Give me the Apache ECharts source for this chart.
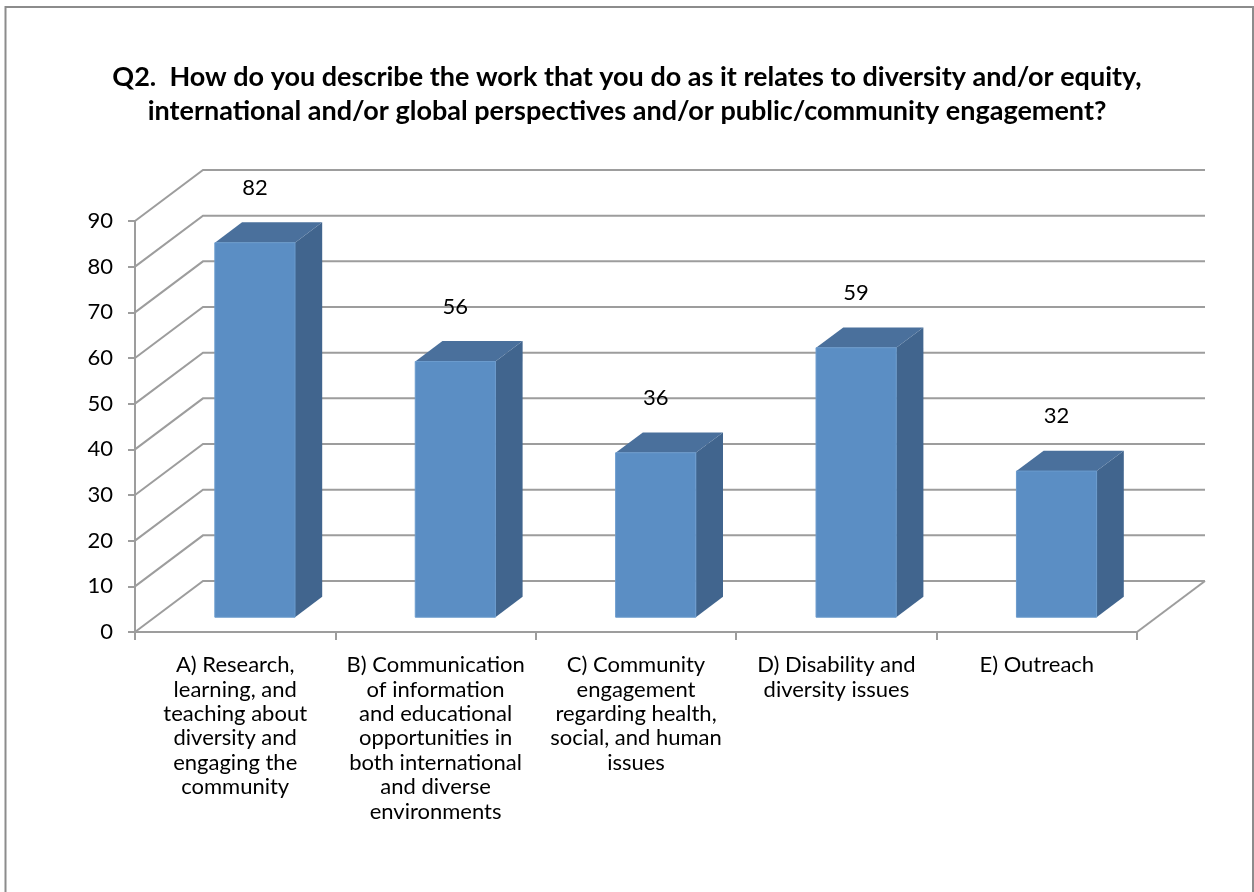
<!DOCTYPE html>
<html>
<head>
<meta charset="utf-8">
<script src="https://cdn.jsdelivr.net/npm/echarts@6/dist/echarts.min.js"></script>
<style>
  html, body { margin: 0; padding: 0; background: #fff; }
  #chart { width: 1254px; height: 892px; }
</style>
</head>
<body>
<div id="chart"></div>
<script>
// Survey responses per category
const categories = [
  'A) Research,\nlearning, and\nteaching about\ndiversity and\nengaging the\ncommunity',
  'B) Communication\nof information\nand educational\nopportunities in\nboth international\nand diverse\nenvironments',
  'C) Community\nengagement\nregarding health,\nsocial, and human\nissues',
  'D) Disability and\ndiversity issues',
  'E) Outreach'
];
const responses = [82, 56, 36, 59, 32];
const yTicks = [0, 10, 20, 30, 40, 50, 60, 70, 80, 90];

const titleText = 'Q2.  How do you describe the work that you do as it relates to diversity and/or equity,\ninternational and/or global perspectives and/or public/community engagement?';

// Pseudo-3D projection: depth of the floor in pixels, bar placement within the depth
const DX = 68, DY = -51;
const BAR_FRONT = 0.29, BAR_DEPTH = 0.40, BAR_WIDTH = 0.40;
const FONT = 'Lato, "Open Sans", sans-serif';
const GRID_COLOR = '#9d9d9d';

const chart = echarts.init(document.getElementById('chart'));

function renderWalls(params, api) {
  const cs = params.coordSys;
  const v = api.value(1);
  const y = api.coord([0, v])[1];
  const x0 = cs.x, x1 = cs.x + cs.width;
  const style = { stroke: GRID_COLOR, lineWidth: 2, fill: null };
  const children = [{
    type: 'polyline',
    shape: { points: [[x0, y], [x0 + DX, y + DY], [x1 + DX, y + DY]] },
    style: style
  }];
  if (v === 0) {
    children.push({
      type: 'line',
      shape: { x1: x1, y1: y, x2: x1 + DX, y2: y + DY },
      style: style
    });
  }
  return { type: 'group', children: children };
}

function renderBar(params, api) {
  const idx = api.value(0);
  const val = api.value(1);
  const top = api.coord([idx, val]);
  const base = api.coord([idx, 0]);
  const w = api.size([1, 0])[0] * BAR_WIDTH;
  const ox = DX * BAR_FRONT, oy = DY * BAR_FRONT;
  const dx = DX * BAR_DEPTH, dy = DY * BAR_DEPTH;
  const xl = top[0] + ox - w / 2, xr = top[0] + ox + w / 2;
  const yt = top[1] + oy, yb = base[1] + oy;
  return {
    type: 'group',
    children: [
      { type: 'polygon', shape: { points: [[xr, yt], [xr + dx, yt + dy], [xr + dx, yb + dy], [xr, yb]] },
        style: { fill: '#41658e' } },
      { type: 'polygon', shape: { points: [[xl, yt], [xr, yt], [xr + dx, yt + dy], [xl + dx, yt + dy]] },
        style: { fill: '#4a709c' } },
      { type: 'rect', shape: { x: xl, y: yt, width: w, height: yb - yt },
        style: { fill: '#5b8ec4', stroke: '#6b9bcd', lineWidth: 1 } },
      { type: 'text', x: top[0] + ox, y: yt - 55,
        style: { text: String(val), fontSize: 22, fontFamily: FONT, fill: '#000',
                 align: 'center', verticalAlign: 'middle' } }
    ]
  };
}

chart.setOption({
  backgroundColor: '#fff',
  animation: false,
  graphic: [
    {
      type: 'rect',
      shape: { x: 5.5, y: 7, width: 1247.5, height: 900 },
      style: { fill: null, stroke: '#8c8c8c', lineWidth: 2 },
      silent: true
    },
    {
      type: 'text',
      x: 627, y: 94,
      style: { text: titleText, fontSize: 27, fontWeight: 'bold', fontFamily: FONT, fill: '#000',
               lineHeight: 34, align: 'center', verticalAlign: 'middle' },
      silent: true
    }
  ],
  grid: { left: 135, right: 117, top: 221, bottom: 260 },
  xAxis: {
    type: 'category',
    data: categories,
    boundaryGap: true,
    axisLine: { lineStyle: { color: GRID_COLOR, width: 2 } },
    axisTick: { show: true, length: 8, lineStyle: { color: GRID_COLOR, width: 2 } },
    axisLabel: { interval: 0, margin: 21, fontSize: 22, lineHeight: 24.4, fontFamily: FONT, color: '#000', align: 'center', verticalAlign: 'top' }
  },
  yAxis: {
    type: 'value',
    min: 0, max: 90, interval: 10,
    axisLine: { show: true, lineStyle: { color: GRID_COLOR, width: 2 } },
    axisTick: { show: true, length: 7, lineStyle: { color: GRID_COLOR, width: 2 } },
    splitLine: { show: false },
    axisLabel: { margin: 22, fontSize: 22, fontFamily: FONT, color: '#000',
                 formatter: function (v) { return yTicks.indexOf(v) >= 0 ? String(v) : ''; } }
  },
  series: [
    {
      type: 'custom',
      z: 1,
      silent: true,
      renderItem: renderWalls,
      encode: { x: 0, y: 1 },
      data: yTicks.map(function (v) { return [0, v]; })
    },
    {
      type: 'custom',
      z: 3,
      renderItem: renderBar,
      encode: { x: 0, y: 1 },
      data: responses.map(function (v, i) { return [i, v]; })
    }
  ]
});
</script>
</body>
</html>
